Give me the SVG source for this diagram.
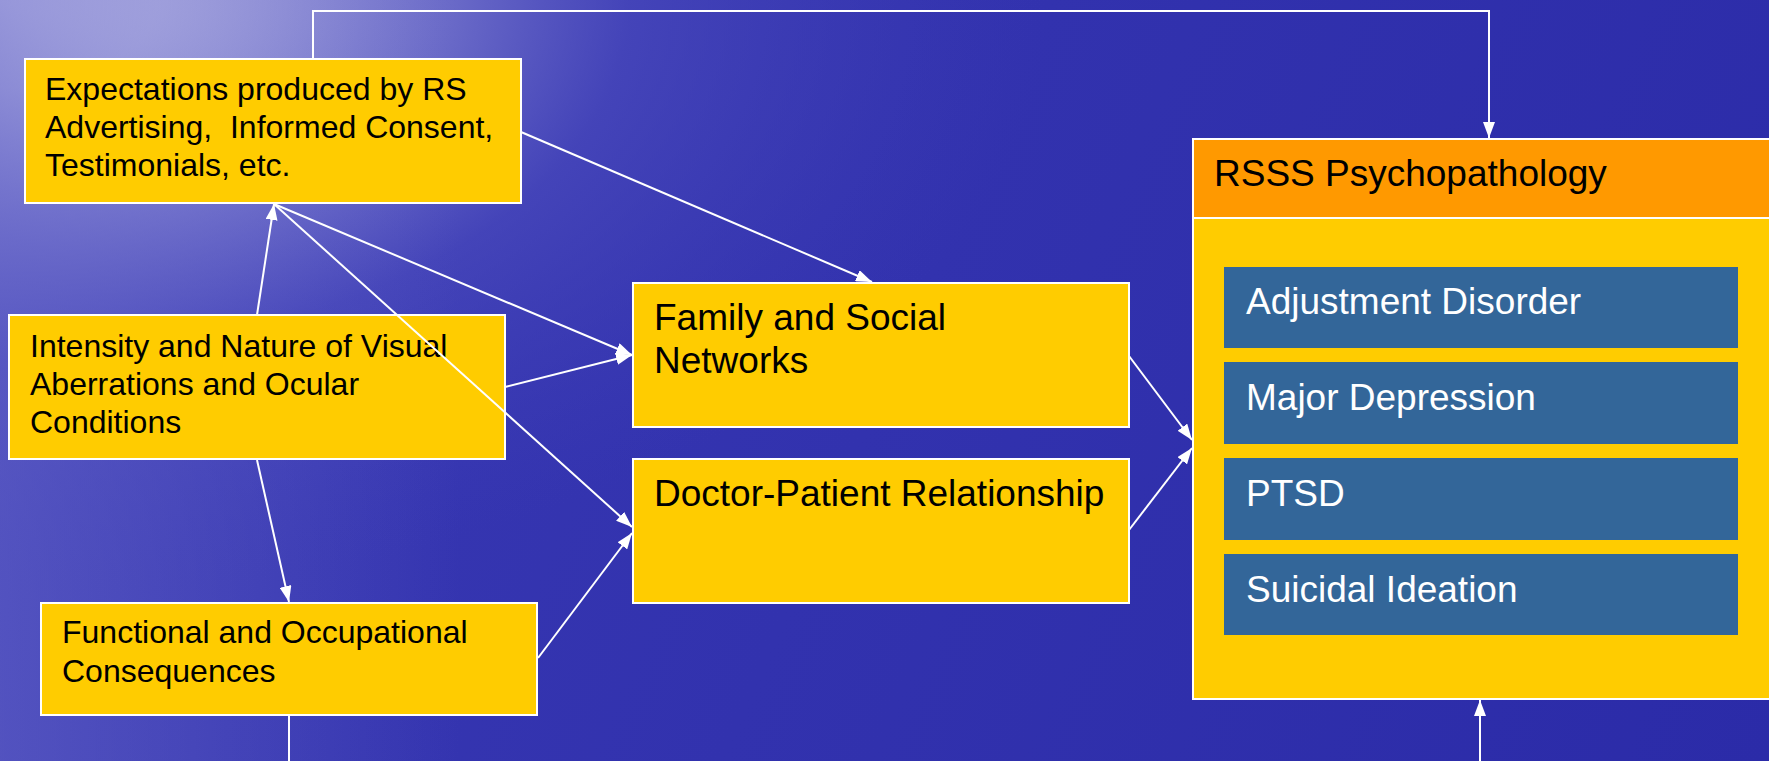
<svg xmlns="http://www.w3.org/2000/svg" width="1769" height="761" viewBox="0 0 1769 761">
<defs>
<radialGradient id="bg" cx="0" cy="0" r="1" gradientUnits="userSpaceOnUse" gradientTransform="scale(1050,600)">
<stop offset="0" stop-color="#e2e2f4" stop-opacity="1"/>
<stop offset="0.15" stop-color="#c4c4e8" stop-opacity="1"/>
<stop offset="0.35" stop-color="#8484d2" stop-opacity="0.95"/>
<stop offset="0.6" stop-color="#4a4abc" stop-opacity="0.7"/>
<stop offset="1" stop-color="#3a3ab4" stop-opacity="0"/>
</radialGradient>
<linearGradient id="base" x1="0" y1="0" x2="1769" y2="761" gradientUnits="userSpaceOnUse">
<stop offset="0" stop-color="#3a3ab4"/>
<stop offset="0.5" stop-color="#3232ae"/>
<stop offset="1" stop-color="#2b2ba8"/>
</linearGradient>
<linearGradient id="leftglow" x1="0" y1="0" x2="460" y2="0" gradientUnits="userSpaceOnUse">
<stop offset="0" stop-color="#6464c8" stop-opacity="0.6"/>
<stop offset="1" stop-color="#6464c8" stop-opacity="0"/>
</linearGradient>
<marker id="ah" viewBox="0 0 16 12" refX="16" refY="6" markerWidth="16" markerHeight="12" markerUnits="userSpaceOnUse" orient="auto">
<path d="M0,0 L16,6 L0,12 Z" fill="#ffffff"/>
</marker>
<style>
.box{fill:#ffcc00;stroke:#ffffff;stroke-width:2}
.hdr{fill:#ff9900;stroke:#ffffff;stroke-width:2}
.inner{fill:#336699}
.t{font-family:"Liberation Sans",Arial,sans-serif;fill:#000000}
.s{font-size:32px}
.l{font-size:37px}
.w{font-family:"Liberation Sans",Arial,sans-serif;font-size:37px;fill:#ffffff}
.c{stroke:#ffffff;stroke-width:2;fill:none}
.a{marker-end:url(#ah)}
</style>
</defs>
<rect x="0" y="0" width="1769" height="761" fill="url(#base)"/>
<rect x="0" y="0" width="1769" height="761" fill="url(#bg)"/>
<rect x="0" y="0" width="460" height="761" fill="url(#leftglow)"/>

<g id="connectors">
<polyline class="c a" points="313,59 313,11 1489,11 1489,138"/>
<line class="c" x1="289" y1="715" x2="289" y2="761"/>
<line class="c a" x1="1480" y1="761" x2="1480" y2="700"/>
<line class="c a" x1="257" y1="315" x2="274" y2="204"/>
<line class="c a" x1="257" y1="460" x2="289" y2="602"/>
<line class="c a" x1="521" y1="132" x2="872" y2="282"/>
<line class="c a" x1="274" y1="204" x2="632" y2="355"/>
<line class="c a" x1="505" y1="387" x2="632" y2="355"/>
<line class="c a" x1="538" y1="658" x2="632" y2="533"/>
<line class="c a" x1="1129" y1="356" x2="1192" y2="440"/>
<line class="c a" x1="1129" y1="530" x2="1192" y2="448"/>
</g>

<g id="expectations">
<rect class="box" x="25" y="59" width="496" height="144"/>
<text class="t s" x="45" y="100">Expectations produced by RS</text>
<text class="t s" x="45" y="138" xml:space="preserve">Advertising,  Informed Consent,</text>
<text class="t s" x="45" y="176">Testimonials, etc.</text>
</g>

<g id="intensity">
<rect class="box" x="9" y="315" width="496" height="144"/>
<text class="t s" x="30" y="357">Intensity and Nature of Visual</text>
<text class="t s" x="30" y="395">Aberrations and Ocular</text>
<text class="t s" x="30" y="433">Conditions</text>
</g>

<line id="expectations-doctor" class="c a" x1="274" y1="204" x2="632" y2="527"/>

<g id="functional">
<rect class="box" x="41" y="603" width="496" height="112"/>
<text class="t s" x="62" y="643">Functional and Occupational</text>
<text class="t s" x="62" y="682">Consequences</text>
</g>

<g id="family">
<rect class="box" x="633" y="283" width="496" height="144"/>
<text class="t l" x="654" y="330">Family and Social</text>
<text class="t l" x="654" y="373">Networks</text>
</g>

<g id="doctor">
<rect class="box" x="633" y="459" width="496" height="144"/>
<text class="t l" x="654" y="506">Doctor-Patient Relationship</text>
</g>

<g id="rsss">
<rect class="box" x="1193" y="139" width="590" height="560"/>
<rect class="hdr" x="1193" y="139" width="590" height="79"/>
<text class="t l" x="1214" y="186">RSSS Psychopathology</text>
</g>
<g id="adjustment">
<rect class="inner" x="1224" y="267" width="514" height="81"/>
<text class="w" x="1246" y="314">Adjustment Disorder</text>
</g>
<g id="depression">
<rect class="inner" x="1224" y="362" width="514" height="82"/>
<text class="w" x="1246" y="410">Major Depression</text>
</g>
<g id="ptsd">
<rect class="inner" x="1224" y="458" width="514" height="82"/>
<text class="w" x="1246" y="506">PTSD</text>
</g>
<g id="suicidal">
<rect class="inner" x="1224" y="554" width="514" height="81"/>
<text class="w" x="1246" y="602">Suicidal Ideation</text>
</g>
</svg>
